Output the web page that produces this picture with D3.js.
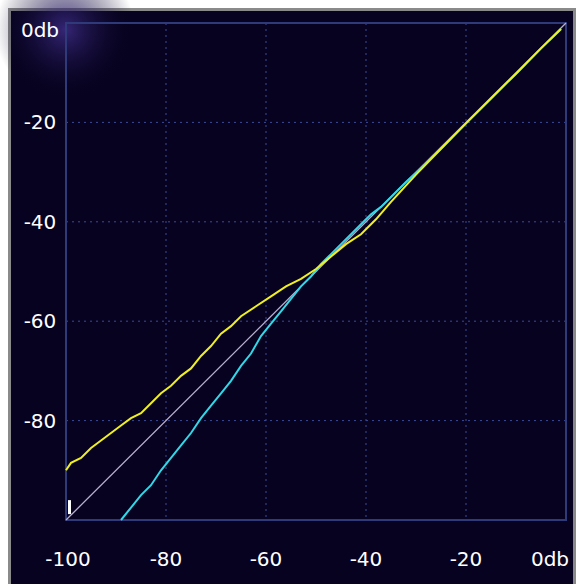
<!DOCTYPE html>
<html><head><meta charset="utf-8">
<script src="https://cdn.jsdelivr.net/npm/d3@7"></script>
<style>body{margin:0;background:#fff}svg{display:block}</style>
</head><body>
<script>
const gridTicks = [-80, -60, -40, -20];
const xLabels = [-100, -80, -60, -40, -20, 0];
const yLabels = [0, -20, -40, -60, -80];
// expander (yellow) curve: input dB -> output dB
const expIn = [-100, -99, -97, -95, -93, -91, -89, -87, -85, -83, -81, -79, -77, -75, -73, -71, -69, -67, -65, -62, -59, -56, -53, -50, -47, -44, -41, -38, -35, -30, -25, -20, -15, -10, -5, -1];
const expOut = [-90, -88.5, -87.5, -85.5, -84, -82.5, -81, -79.5, -78.5, -76.5, -74.5, -73, -71, -69.5, -67, -65, -62.5, -61, -59, -57, -55, -53, -51.5, -49.5, -47, -44.5, -42.5, -39.5, -36, -30.5, -25.3, -20.2, -15.2, -10.2, -5.1, -1.2];
// compressor (cyan) curve
const cmpIn = [-89, -87, -85, -83, -81, -79, -77, -75, -73, -71, -69, -67, -65, -63, -61, -59, -57, -55, -53, -51, -49, -47, -45, -43, -41, -39, -37, -35, -32, -29, -25, -20, -15, -10, -5, -1];
const cmpOut = [-100, -97.5, -95, -93, -90, -87.5, -85, -82.5, -79.5, -77, -74.5, -72, -69, -66.5, -63, -60.5, -58, -55.5, -53, -51, -48.5, -46.5, -44.5, -42.5, -40.5, -38.5, -37, -35, -32, -29.2, -25.3, -20.2, -15.2, -10.2, -5.1, -1.2];

const W = 584, H = 584;
const svg = d3.select("body").append("svg").attr("width", W).attr("height", H);
const x = d3.scaleLinear().domain([-100, 0]).range([66, 566]);
const y = d3.scaleLinear().domain([-100, 0]).range([520, 23]);

svg.append("rect").attr("x", 8).attr("y", 8).attr("width", 568).attr("height", 576).attr("fill", "#8a8a8a");
svg.append("rect").attr("x", 11).attr("y", 11).attr("width", 562).attr("height", 573).attr("fill", "#07021f");
const defs = svg.append("defs");
const rg = defs.append("radialGradient").attr("id", "glow");
rg.append("stop").attr("offset", "0%").attr("stop-color", "#3a2a80").attr("stop-opacity", 0.9);
rg.append("stop").attr("offset", "100%").attr("stop-color", "#07021f").attr("stop-opacity", 0);
svg.append("circle").attr("cx", 65).attr("cy", 30).attr("r", 70).attr("fill", "url(#glow)");

const g = svg.append("g");
g.selectAll(".vg").data(gridTicks).join("line")
  .attr("x1", d => x(d)).attr("x2", d => x(d)).attr("y1", y(0)).attr("y2", y(-100))
  .attr("stroke", "#3c4a9a").attr("stroke-dasharray", "2,4");
g.selectAll(".hg").data(gridTicks).join("line")
  .attr("y1", d => y(d)).attr("y2", d => y(d)).attr("x1", x(-100)).attr("x2", x(0))
  .attr("stroke", "#3c4a9a").attr("stroke-dasharray", "2,4");
g.append("rect").attr("x", x(-100)).attr("y", y(0)).attr("width", x(0) - x(-100)).attr("height", y(-100) - y(0))
  .attr("fill", "none").attr("stroke", "#2e3a7a").attr("stroke-width", 2);

g.append("line").attr("x1", x(-100)).attr("y1", y(-100)).attr("x2", x(0)).attr("y2", y(0))
  .attr("stroke", "#b8b0d0").attr("stroke-width", 1.3);
const line = d3.line().x(d => x(d[0])).y(d => y(d[1]));
g.append("path").attr("d", line(d3.zip(cmpIn, cmpOut))).attr("fill", "none").attr("stroke", "#30d8e8").attr("stroke-width", 2);
g.append("path").attr("d", line(d3.zip(expIn, expOut))).attr("fill", "none").attr("stroke", "#f0f020").attr("stroke-width", 2);
g.append("rect").attr("x", x(-100) + 2).attr("y", y(-96)).attr("width", 3).attr("height", 14).attr("fill", "#fff");

const font = "DejaVu Sans";
svg.selectAll(".xl").data(xLabels).join("text")
  .attr("x", d => d === 0 ? x(d) - 16 : x(d) - 20 * (d === -100 ? -0.1 : 0)).attr("y", 566)
  .attr("text-anchor", "middle").attr("fill", "#fff").attr("font-family", font).attr("font-size", 20)
  .text(d => d === 0 ? "0db" : d);
svg.selectAll(".yl").data(yLabels).join("text")
  .attr("x", 40).attr("y", d => d === 0 ? y(d) + 14 : y(d) + 7)
  .attr("text-anchor", "middle").attr("fill", "#fff").attr("font-family", font).attr("font-size", 20)
  .text(d => d === 0 ? "0db" : d);
</script>
</body></html>
